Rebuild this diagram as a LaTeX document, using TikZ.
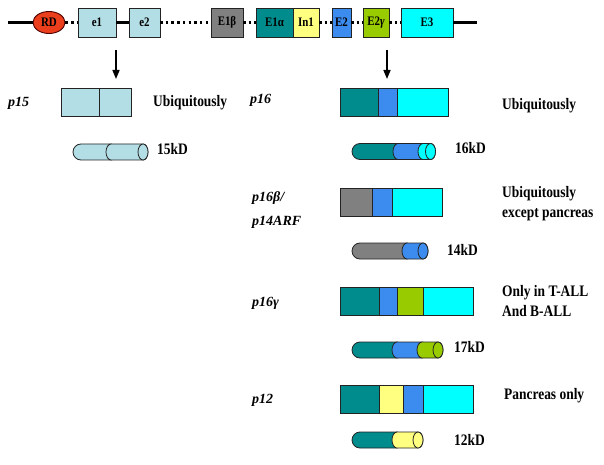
\documentclass[tikz,border=0pt]{standalone}
\usepackage{fontspec}
\setmainfont{Liberation Serif}
\newfontfamily\condfont[FakeStretch=0.84]{Liberation Serif}
\usetikzlibrary{arrows.meta,shapes.geometric}
\definecolor{lbc}{RGB}{180,222,230}
\definecolor{gyc}{RGB}{128,128,128}
\definecolor{tlc}{RGB}{0,140,140}
\definecolor{ylc}{RGB}{255,255,128}
\definecolor{blc}{RGB}{60,140,240}
\definecolor{grc}{RGB}{153,204,0}
\definecolor{cyc}{RGB}{0,255,255}
\definecolor{rdc}{RGB}{235,62,28}
\definecolor{olc}{RGB}{35,35,35}
\newcommand{\myGF}{\condfont\fontsize{13}{14}\selectfont\bfseries}
\newcommand{\myTF}{\condfont\fontsize{16}{20}\selectfont\bfseries}
\newcommand{\myLF}{\fontsize{14}{24}\selectfont\bfseries\itshape}
% cylinder pieces: first segment (left edge x, right x, centre y, colour)
\newcommand{\cylFirst}[4]{%
  \filldraw[fill=#4,draw=olc,line width=0.8pt] (#1+8,#3-8) -- (#2,#3-8)
    arc[start angle=90,end angle=-90,x radius=5pt,y radius=8pt] -- (#1+8,#3+8)
    arc[start angle=270,end angle=90,x radius=8pt,y radius=8pt] -- cycle;}
\newcommand{\cylSeg}[4]{%
  \filldraw[fill=#4,draw=olc,line width=0.8pt] (#1,#3-8) -- (#2,#3-8)
    arc[start angle=90,end angle=-90,x radius=5pt,y radius=8pt] -- (#1,#3+8)
    arc[start angle=270,end angle=90,x radius=5pt,y radius=8pt] -- cycle;}
\newcommand{\cylEnd}[3]{%
  \filldraw[fill=#3,draw=olc,line width=0.8pt] (#1,#2) ellipse[x radius=5pt,y radius=8pt];}
\tikzset{
  gbox/.style={draw=olc,line width=0.9pt,inner sep=0pt,outer sep=0pt,minimum height=29pt,font=\myGF},
  segbox/.style={draw=olc,line width=1pt,inner sep=0pt,outer sep=0pt,minimum height=28pt,anchor=north west},
  txt/.style={font=\myTF,anchor=west,inner sep=0pt,align=left},
  plbl/.style={font=\myLF,anchor=west,inner sep=0pt,align=left},
  solidline/.style={line width=3pt,draw=black},
  dotline/.style={line width=2.5pt,draw=black,dash pattern=on 2.5pt off 3.2pt},
  downarrow/.style={line width=1.6pt,-{Triangle[width=7pt,length=9pt]}}
}
\begin{document}
\begin{tikzpicture}[x=1pt,y=-1pt]
\useasboundingbox[fill=white] (0,0) rectangle (604,465);
% ---- gene row ----
\coordinate (L0) at (8,22.5);
\coordinate (L1) at (477,22.5);
\node[draw=black!70!red,line width=0.9pt,fill=rdc,ellipse,inner sep=0pt,minimum width=32pt,minimum height=22pt,font=\myGF] (RD) at (49,22.5) {RD};
\node[gbox,fill=lbc,minimum width=38pt] (e1) at (97,22.5) {e1};
\node[gbox,fill=lbc,minimum width=31pt] (e2) at (144.5,22.5) {e2};
\node[gbox,fill=gyc,minimum width=32pt] (E1b) at (227,22.5) {E1β};
\node[gbox,fill=tlc,minimum width=37pt] (E1a) at (274.5,22.5) {E1α};
\node[gbox,fill=ylc,minimum width=26pt] (In1) at (306,22.5) {In1};
\node[gbox,fill=blc,minimum width=19pt] (E2) at (341.5,22.5) {E2};
\node[gbox,fill=grc,minimum width=26pt] (E2g) at (376,22.5) {E2\textit{γ}};
\node[gbox,fill=cyc,minimum width=52pt] (E3) at (427,22.5) {E3};
\draw[solidline] (L0) -- (RD);
\draw[solidline] (e1) -- (e2);
\draw[solidline] (E3) -- (L1);
\draw[dotline] (RD) -- (e1);
\draw[dotline] (e2) -- (E1b);
\draw[dotline] (E1b) -- (E1a);
\draw[dotline] (In1) -- (E2);
\draw[dotline] (E2) -- (E2g);
\draw[dotline] (E2g) -- (E3);
% ---- arrows ----
\coordinate (A1s) at (116,50);
\coordinate (A1e) at (116,79);
\coordinate (A2s) at (387,50);
\coordinate (A2e) at (387,79);
\draw[downarrow] (A1s) -- (A1e);
\draw[downarrow] (A2s) -- (A2e);
% ---- p15 ----
\node[plbl] (p15) at (8,103) {p15};
\node[segbox,fill=lbc,minimum width=38pt] (p15a) at (61,89) {};
\node[segbox,fill=lbc,minimum width=32pt] (p15b) at (99,89) {};
\node[txt] (u15) at (153,103) {Ubiquitously};
\cylFirst{73}{111}{152}{lbc}
\cylSeg{111}{143}{152}{lbc}
\cylEnd{143}{152}{lbc}
\node[txt] (k15) at (157,149) {15kD};
% ---- p16 ----
\node[plbl] (p16) at (250,100) {p16};
\node[segbox,fill=tlc,minimum width=38pt] (p16a) at (340,89) {};
\node[segbox,fill=blc,minimum width=19pt] (p16b) at (378,89) {};
\node[segbox,fill=cyc,minimum width=51pt] (p16c) at (397,89) {};
\node[txt] (u16) at (502,106) {Ubiquitously};
\cylFirst{352}{398}{151.5}{tlc}
\cylSeg{398}{423}{151.5}{blc}
\cylSeg{423}{430.5}{151.5}{cyc}
\cylEnd{430.5}{151.5}{cyc}
\node[txt] (k16) at (455,148) {16kD};
% ---- p16beta / p14ARF ----
\node[plbl] (p16bl) at (252,210) {p16\textit{β}/\\p14ARF};
\node[segbox,fill=gyc,minimum width=32pt] (pba) at (340,188) {};
\node[segbox,fill=blc,minimum width=20pt] (pbb) at (372,188) {};
\node[segbox,fill=cyc,minimum width=50pt] (pbc) at (392,188) {};
\node[txt] (ub) at (502,204) {Ubiquitously\\except pancreas};
\cylFirst{352}{407}{251}{gyc}
\cylSeg{407}{423}{251}{blc}
\cylEnd{423}{251}{blc}
\node[txt] (k14) at (447,250) {14kD};
% ---- p16gamma ----
\node[plbl] (p16g) at (252,303) {p16\textit{γ}};
\node[segbox,fill=tlc,minimum width=39pt] (pga) at (340,287) {};
\node[segbox,fill=blc,minimum width=18pt] (pgb) at (379,287) {};
\node[segbox,fill=grc,minimum width=26pt] (pgc) at (397,287) {};
\node[segbox,fill=cyc,minimum width=50pt] (pgd) at (423,287) {};
\node[txt] (ug) at (502,301) {Only in T-ALL\\And B-ALL};
\cylFirst{352}{397}{350}{tlc}
\cylSeg{397}{422}{350}{blc}
\cylSeg{422}{438}{350}{grc}
\cylEnd{438}{350}{grc}
\node[txt] (k17) at (454,347) {17kD};
% ---- p12 ----
\node[plbl] (p12) at (252,400) {p12};
\node[segbox,fill=tlc,minimum width=39pt] (pca) at (340,385) {};
\node[segbox,fill=ylc,minimum width=24pt] (pcb) at (379,385) {};
\node[segbox,fill=blc,minimum width=20pt] (pcc) at (403,385) {};
\node[segbox,fill=cyc,minimum width=50pt] (pcd) at (423,385) {};
\node[txt] (u12) at (504,396) {Pancreas only};
\cylFirst{352}{397}{440}{tlc}
\cylSeg{397}{418}{440}{ylc}
\cylEnd{418}{440}{ylc}
\node[txt] (k12) at (454,440) {12kD};
\end{tikzpicture}
\end{document}
